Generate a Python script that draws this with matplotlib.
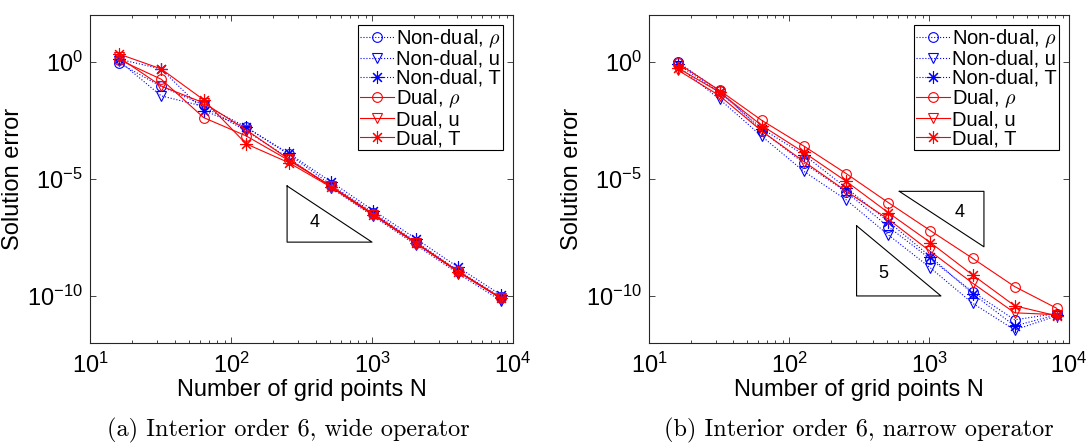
import numpy as np
import matplotlib
matplotlib.use("Agg")
import matplotlib.pyplot as plt

plt.rcParams['font.family'] = ['Liberation Sans', 'DejaVu Sans']
plt.rcParams['mathtext.fontset'] = 'cm'

# Number of grid points
N = [16, 32, 64, 128, 256, 512, 1024, 2048, 4096, 8192]

# log10 of the solution error, (a) wide operator
wide_nd_rho = [-0.04, -1.05, -1.84, -2.78, -3.95, -5.25, -6.45, -7.68, -8.92, -10.05]
wide_nd_u = [0.05, -1.45, -1.90, -2.95, -4.10, -5.38, -6.60, -7.82, -9.05, -10.20]
wide_nd_T = [0.12, -0.30, -2.08, -2.80, -3.90, -5.12, -6.35, -7.55, -8.78, -9.95]
wide_d_rho = [0.10, -0.74, -2.38, -3.16, -4.20, -5.30, -6.50, -7.72, -8.95, -10.08]
wide_d_u = [0.20, -1.03, -1.75, -2.90, -4.15, -5.32, -6.53, -7.74, -8.96, -10.10]
wide_d_T = [0.34, -0.30, -1.62, -3.50, -4.30, -5.35, -6.55, -7.75, -8.98, -10.10]

# log10 of the solution error, (b) narrow operator
narrow_nd_rho = [0.00, -1.25, -2.95, -4.33, -5.55, -7.04, -8.42, -9.82, -11.02, -10.75]
narrow_nd_u = [-0.17, -1.60, -3.18, -4.68, -5.89, -7.39, -8.80, -10.31, -11.45, -10.85]
narrow_nd_T = [-0.10, -1.30, -2.85, -3.97, -5.38, -6.82, -8.32, -9.90, -11.28, -10.80]
narrow_d_rho = [-0.05, -1.22, -2.50, -3.60, -4.77, -6.01, -7.21, -8.39, -9.60, -10.53]
narrow_d_u = [-0.34, -1.45, -2.96, -4.26, -5.52, -6.72, -8.10, -9.45, -10.72, -10.80]
narrow_d_T = [-0.25, -1.30, -2.72, -3.87, -5.10, -6.44, -7.72, -9.10, -10.42, -10.85]

labels = ['Non-dual, $\\rho$', 'Non-dual, u', 'Non-dual, T',
          'Dual, $\\rho$', 'Dual, u', 'Dual, T']

# slope triangles: (x0, x1, log y at x0, log y at x1, corner, slope label, label x, label log y)
wide_triangles = [(250, 1000, -5.3, -7.7, 'lower left', '4', 395, -6.88)]
narrow_triangles = [(614, 2470, -5.53, -7.9, 'upper right', '4', 1644, -6.45),
                    (304, 1218, -7.0, -10.0, 'lower left', '5', 472, -9.05)]

captions = ['(a) Interior order 6, wide operator',
            '(b) Interior order 6, narrow operator']

asterisk = (8, 2, 0)
styles = [('b', ':', 'o'), ('b', ':', 'v'), ('b', ':', asterisk),
          ('r', '-', 'o'), ('r', '-', 'v'), ('r', '-', asterisk)]

fig = plt.figure(figsize=(10.88, 4.44), dpi=100)
ax1 = fig.add_axes([0.0827, 0.228, 0.3888, 0.738])
ax2 = fig.add_axes([0.5965, 0.228, 0.386, 0.738])

panels = [
    (ax1, [wide_nd_rho, wide_nd_u, wide_nd_T, wide_d_rho, wide_d_u, wide_d_T], wide_triangles),
    (ax2, [narrow_nd_rho, narrow_nd_u, narrow_nd_T, narrow_d_rho, narrow_d_u, narrow_d_T], narrow_triangles),
]

for k, (ax, series, tris) in enumerate(panels):
    for s, (c, ls, m), lab in zip(series, styles, labels):
        ms = 9 if m == asterisk else 7
        ax.loglog(N, 10.0 ** np.array(s), color=c, linestyle=ls, marker=m,
                  markersize=ms, markerfacecolor='none', markeredgewidth=0.8,
                  linewidth=0.8, label=lab)
    for x0, x1, y0, y1, corner, txt, tx, ty in tris:
        if corner == 'lower left':
            xs = [x0, x0, x1, x0]
            ys = [y0, y1, y1, y0]
        else:
            xs = [x0, x1, x1, x0]
            ys = [y0, y0, y1, y0]
        ax.plot(xs, 10.0 ** np.array(ys), color='k', linewidth=0.8)
        ax.text(tx, 10.0 ** ty, txt, fontsize=13, ha='center', va='center')

    ax.set_xlim(10, 1e4)
    ax.set_ylim(1e-12, 1e2)
    ax.set_yticks([1e-10, 1e-5, 1e0])
    ax.yaxis.set_minor_locator(matplotlib.ticker.NullLocator())
    ax.tick_params(which='both', direction='in', top=True, right=True,
                   labelsize=17, color='#262626')
    ax.tick_params(which='major', length=4, width=0.6)
    ax.tick_params(which='minor', length=2.5, width=0.6)
    ax.tick_params(axis='x', which='major', pad=7)
    ax.tick_params(axis='y', which='major', pad=5)
    for sp in ax.spines.values():
        sp.set_linewidth(0.8)
        sp.set_color('#262626')
    ax.set_xlabel('Number of grid points N', fontsize=17, labelpad=1)
    ax.set_ylabel('Solution error', fontsize=17, labelpad=2)
    leg = ax.legend(loc='upper right', fontsize=14.5, fancybox=False,
                    edgecolor='k', framealpha=1, borderpad=0.1,
                    labelspacing=0.0, handlelength=1.7, handletextpad=0.1,
                    borderaxespad=0.5)
    leg.get_frame().set_linewidth(0.8)

for cx, cap in zip([0.265, 0.789], captions):
    fig.text(cx, 0.0315, cap, fontsize=17.5, ha='center', va='center',
             family='cmr10')

fig.savefig('out.png', dpi=100)
